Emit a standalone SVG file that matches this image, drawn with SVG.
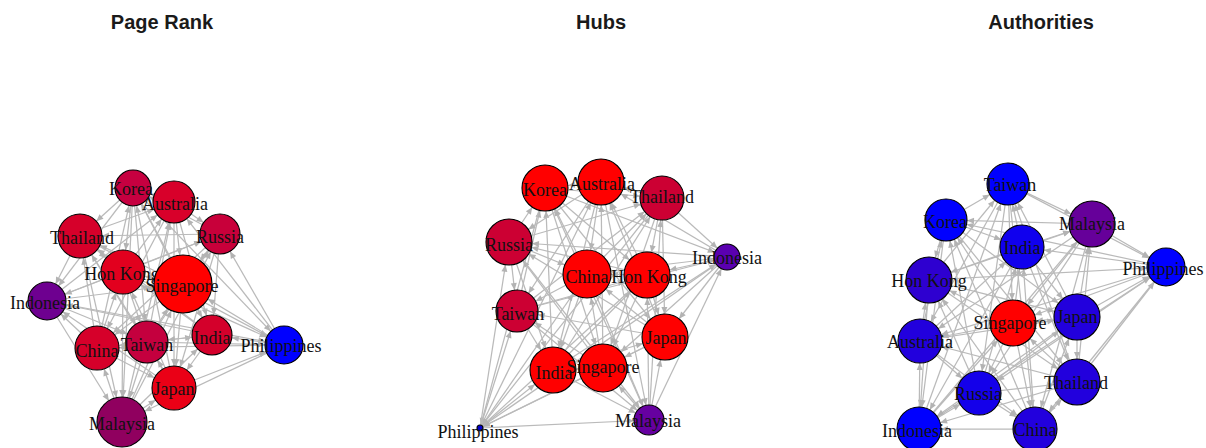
<svg xmlns="http://www.w3.org/2000/svg" width="1206" height="448" viewBox="0 0 1206 448">
<style>
.title{font-family:"Liberation Sans",Arial,sans-serif;font-weight:bold;font-size:20px;fill:#1a1a1a;text-anchor:middle}
.lbl{font-family:"Liberation Serif","Times New Roman",serif;font-size:18px;fill:#111;text-anchor:middle}
.edges line{stroke:#bababa;stroke-width:1.25;fill:none}
.nodes circle{stroke:#000;stroke-width:1.1}
.a3{marker-end:url(#m3)}.a13{marker-end:url(#m13)}.a15{marker-end:url(#m15)}.a18{marker-end:url(#m18)}
.a19{marker-end:url(#m19)}.a20{marker-end:url(#m20)}.a21{marker-end:url(#m21)}.a22{marker-end:url(#m22)}
.a23{marker-end:url(#m23)}.a24{marker-end:url(#m24)}.a25{marker-end:url(#m25)}.a29{marker-end:url(#m29)}
</style>
<defs>
<path id="ah" d="M0,0 L7,3 L0,6 Z" fill="#b3b3b3"/>
<marker id="m3" markerUnits="userSpaceOnUse" markerWidth="10" markerHeight="6" refX="10" refY="3" orient="auto" overflow="visible"><use href="#ah"/></marker>
<marker id="m13" markerUnits="userSpaceOnUse" markerWidth="10" markerHeight="6" refX="20" refY="3" orient="auto" overflow="visible"><use href="#ah"/></marker>
<marker id="m15" markerUnits="userSpaceOnUse" markerWidth="10" markerHeight="6" refX="22" refY="3" orient="auto" overflow="visible"><use href="#ah"/></marker>
<marker id="m18" markerUnits="userSpaceOnUse" markerWidth="10" markerHeight="6" refX="25" refY="3" orient="auto" overflow="visible"><use href="#ah"/></marker>
<marker id="m19" markerUnits="userSpaceOnUse" markerWidth="10" markerHeight="6" refX="26" refY="3" orient="auto" overflow="visible"><use href="#ah"/></marker>
<marker id="m20" markerUnits="userSpaceOnUse" markerWidth="10" markerHeight="6" refX="27" refY="3" orient="auto" overflow="visible"><use href="#ah"/></marker>
<marker id="m21" markerUnits="userSpaceOnUse" markerWidth="10" markerHeight="6" refX="28" refY="3" orient="auto" overflow="visible"><use href="#ah"/></marker>
<marker id="m22" markerUnits="userSpaceOnUse" markerWidth="10" markerHeight="6" refX="29" refY="3" orient="auto" overflow="visible"><use href="#ah"/></marker>
<marker id="m23" markerUnits="userSpaceOnUse" markerWidth="10" markerHeight="6" refX="30" refY="3" orient="auto" overflow="visible"><use href="#ah"/></marker>
<marker id="m24" markerUnits="userSpaceOnUse" markerWidth="10" markerHeight="6" refX="31" refY="3" orient="auto" overflow="visible"><use href="#ah"/></marker>
<marker id="m25" markerUnits="userSpaceOnUse" markerWidth="10" markerHeight="6" refX="32" refY="3" orient="auto" overflow="visible"><use href="#ah"/></marker>
<marker id="m29" markerUnits="userSpaceOnUse" markerWidth="10" markerHeight="6" refX="36" refY="3" orient="auto" overflow="visible"><use href="#ah"/></marker>
</defs>
<rect width="1206" height="448" fill="#fff"/>
<text class="title" x="162" y="29">Page Rank</text>
<text class="title" x="601" y="29">Hubs</text>
<text class="title" x="1041" y="29">Authorities</text>

<g id="edges-pagerank" class="edges">
<line x1="174" y1="202" x2="133" y2="188" class="a18"/>
<line x1="133" y1="188" x2="80" y2="236" class="a22"/>
<line x1="220" y1="234" x2="133" y2="188" class="a18"/>
<line x1="133" y1="188" x2="123" y2="272" class="a22"/>
<line x1="183" y1="284" x2="133" y2="188" class="a18"/>
<line x1="133" y1="188" x2="47" y2="301" class="a19"/>
<line x1="97" y1="348" x2="133" y2="188" class="a18"/>
<line x1="133" y1="188" x2="147" y2="342" class="a21"/>
<line x1="212" y1="335" x2="133" y2="188" class="a18"/>
<line x1="133" y1="188" x2="284" y2="345" class="a19"/>
<line x1="174" y1="388" x2="133" y2="188" class="a18"/>
<line x1="133" y1="188" x2="122" y2="422" class="a25"/>
<line x1="80" y1="236" x2="174" y2="202" class="a21"/>
<line x1="174" y1="202" x2="220" y2="234" class="a20"/>
<line x1="123" y1="272" x2="174" y2="202" class="a21"/>
<line x1="174" y1="202" x2="183" y2="284" class="a29"/>
<line x1="47" y1="301" x2="174" y2="202" class="a21"/>
<line x1="174" y1="202" x2="97" y2="348" class="a22"/>
<line x1="147" y1="342" x2="174" y2="202" class="a21"/>
<line x1="174" y1="202" x2="212" y2="335" class="a20"/>
<line x1="284" y1="345" x2="174" y2="202" class="a21"/>
<line x1="174" y1="202" x2="174" y2="388" class="a22"/>
<line x1="122" y1="422" x2="174" y2="202" class="a21"/>
<line x1="220" y1="234" x2="80" y2="236" class="a22"/>
<line x1="80" y1="236" x2="123" y2="272" class="a22"/>
<line x1="183" y1="284" x2="80" y2="236" class="a22"/>
<line x1="80" y1="236" x2="47" y2="301" class="a19"/>
<line x1="97" y1="348" x2="80" y2="236" class="a22"/>
<line x1="80" y1="236" x2="147" y2="342" class="a21"/>
<line x1="212" y1="335" x2="80" y2="236" class="a22"/>
<line x1="80" y1="236" x2="284" y2="345" class="a19"/>
<line x1="174" y1="388" x2="80" y2="236" class="a22"/>
<line x1="80" y1="236" x2="122" y2="422" class="a25"/>
<line x1="123" y1="272" x2="220" y2="234" class="a20"/>
<line x1="220" y1="234" x2="183" y2="284" class="a29"/>
<line x1="47" y1="301" x2="220" y2="234" class="a20"/>
<line x1="220" y1="234" x2="97" y2="348" class="a22"/>
<line x1="147" y1="342" x2="220" y2="234" class="a20"/>
<line x1="220" y1="234" x2="212" y2="335" class="a20"/>
<line x1="284" y1="345" x2="220" y2="234" class="a20"/>
<line x1="220" y1="234" x2="174" y2="388" class="a22"/>
<line x1="122" y1="422" x2="220" y2="234" class="a20"/>
<line x1="183" y1="284" x2="123" y2="272" class="a22"/>
<line x1="123" y1="272" x2="47" y2="301" class="a19"/>
<line x1="97" y1="348" x2="123" y2="272" class="a22"/>
<line x1="123" y1="272" x2="147" y2="342" class="a21"/>
<line x1="212" y1="335" x2="123" y2="272" class="a22"/>
<line x1="123" y1="272" x2="284" y2="345" class="a19"/>
<line x1="174" y1="388" x2="123" y2="272" class="a22"/>
<line x1="123" y1="272" x2="122" y2="422" class="a25"/>
<line x1="47" y1="301" x2="183" y2="284" class="a29"/>
<line x1="183" y1="284" x2="97" y2="348" class="a22"/>
<line x1="147" y1="342" x2="183" y2="284" class="a29"/>
<line x1="183" y1="284" x2="212" y2="335" class="a20"/>
<line x1="284" y1="345" x2="183" y2="284" class="a29"/>
<line x1="183" y1="284" x2="174" y2="388" class="a22"/>
<line x1="122" y1="422" x2="183" y2="284" class="a29"/>
<line x1="97" y1="348" x2="47" y2="301" class="a19"/>
<line x1="47" y1="301" x2="147" y2="342" class="a21"/>
<line x1="212" y1="335" x2="47" y2="301" class="a19"/>
<line x1="47" y1="301" x2="284" y2="345" class="a19"/>
<line x1="174" y1="388" x2="47" y2="301" class="a19"/>
<line x1="47" y1="301" x2="122" y2="422" class="a25"/>
<line x1="147" y1="342" x2="97" y2="348" class="a22"/>
<line x1="97" y1="348" x2="212" y2="335" class="a20"/>
<line x1="284" y1="345" x2="97" y2="348" class="a22"/>
<line x1="97" y1="348" x2="174" y2="388" class="a22"/>
<line x1="122" y1="422" x2="97" y2="348" class="a22"/>
<line x1="212" y1="335" x2="147" y2="342" class="a21"/>
<line x1="147" y1="342" x2="284" y2="345" class="a19"/>
<line x1="174" y1="388" x2="147" y2="342" class="a21"/>
<line x1="147" y1="342" x2="122" y2="422" class="a25"/>
<line x1="284" y1="345" x2="212" y2="335" class="a20"/>
<line x1="212" y1="335" x2="174" y2="388" class="a22"/>
<line x1="122" y1="422" x2="212" y2="335" class="a20"/>
<line x1="174" y1="388" x2="284" y2="345" class="a19"/>
<line x1="284" y1="345" x2="122" y2="422" class="a25"/>
<line x1="122" y1="422" x2="174" y2="388" class="a22"/>
</g>

<g id="edges-hubs" class="edges">
<line x1="601" y1="182" x2="545" y2="188" class="a23"/>
<line x1="545" y1="188" x2="662" y2="198" class="a22"/>
<line x1="509" y1="242" x2="545" y2="188" class="a23"/>
<line x1="545" y1="188" x2="727" y2="257" class="a13"/>
<line x1="587" y1="274" x2="545" y2="188" class="a23"/>
<line x1="545" y1="188" x2="647" y2="275" class="a23"/>
<line x1="517" y1="311" x2="545" y2="188" class="a23"/>
<line x1="545" y1="188" x2="665" y2="337" class="a23"/>
<line x1="553" y1="370" x2="545" y2="188" class="a23"/>
<line x1="545" y1="188" x2="603" y2="368" class="a24"/>
<line x1="649" y1="420" x2="545" y2="188" class="a23"/>
<line x1="545" y1="188" x2="480" y2="428" class="a3"/>
<line x1="662" y1="198" x2="601" y2="182" class="a23"/>
<line x1="601" y1="182" x2="509" y2="242" class="a23"/>
<line x1="727" y1="257" x2="601" y2="182" class="a23"/>
<line x1="601" y1="182" x2="587" y2="274" class="a24"/>
<line x1="647" y1="275" x2="601" y2="182" class="a23"/>
<line x1="601" y1="182" x2="517" y2="311" class="a21"/>
<line x1="665" y1="337" x2="601" y2="182" class="a23"/>
<line x1="601" y1="182" x2="553" y2="370" class="a23"/>
<line x1="603" y1="368" x2="601" y2="182" class="a23"/>
<line x1="601" y1="182" x2="649" y2="420" class="a15"/>
<line x1="480" y1="428" x2="601" y2="182" class="a23"/>
<line x1="509" y1="242" x2="662" y2="198" class="a22"/>
<line x1="662" y1="198" x2="727" y2="257" class="a13"/>
<line x1="587" y1="274" x2="662" y2="198" class="a22"/>
<line x1="662" y1="198" x2="647" y2="275" class="a23"/>
<line x1="517" y1="311" x2="662" y2="198" class="a22"/>
<line x1="662" y1="198" x2="665" y2="337" class="a23"/>
<line x1="553" y1="370" x2="662" y2="198" class="a22"/>
<line x1="662" y1="198" x2="603" y2="368" class="a24"/>
<line x1="649" y1="420" x2="662" y2="198" class="a22"/>
<line x1="662" y1="198" x2="480" y2="428" class="a3"/>
<line x1="727" y1="257" x2="509" y2="242" class="a23"/>
<line x1="509" y1="242" x2="587" y2="274" class="a24"/>
<line x1="647" y1="275" x2="509" y2="242" class="a23"/>
<line x1="509" y1="242" x2="517" y2="311" class="a21"/>
<line x1="665" y1="337" x2="509" y2="242" class="a23"/>
<line x1="509" y1="242" x2="553" y2="370" class="a23"/>
<line x1="603" y1="368" x2="509" y2="242" class="a23"/>
<line x1="509" y1="242" x2="649" y2="420" class="a15"/>
<line x1="480" y1="428" x2="509" y2="242" class="a23"/>
<line x1="587" y1="274" x2="727" y2="257" class="a13"/>
<line x1="727" y1="257" x2="647" y2="275" class="a23"/>
<line x1="517" y1="311" x2="727" y2="257" class="a13"/>
<line x1="727" y1="257" x2="665" y2="337" class="a23"/>
<line x1="553" y1="370" x2="727" y2="257" class="a13"/>
<line x1="727" y1="257" x2="603" y2="368" class="a24"/>
<line x1="649" y1="420" x2="727" y2="257" class="a13"/>
<line x1="727" y1="257" x2="480" y2="428" class="a3"/>
<line x1="647" y1="275" x2="587" y2="274" class="a24"/>
<line x1="587" y1="274" x2="517" y2="311" class="a21"/>
<line x1="665" y1="337" x2="587" y2="274" class="a24"/>
<line x1="587" y1="274" x2="553" y2="370" class="a23"/>
<line x1="603" y1="368" x2="587" y2="274" class="a24"/>
<line x1="587" y1="274" x2="649" y2="420" class="a15"/>
<line x1="480" y1="428" x2="587" y2="274" class="a24"/>
<line x1="517" y1="311" x2="647" y2="275" class="a23"/>
<line x1="647" y1="275" x2="665" y2="337" class="a23"/>
<line x1="553" y1="370" x2="647" y2="275" class="a23"/>
<line x1="647" y1="275" x2="603" y2="368" class="a24"/>
<line x1="649" y1="420" x2="647" y2="275" class="a23"/>
<line x1="647" y1="275" x2="480" y2="428" class="a3"/>
<line x1="665" y1="337" x2="517" y2="311" class="a21"/>
<line x1="517" y1="311" x2="553" y2="370" class="a23"/>
<line x1="603" y1="368" x2="517" y2="311" class="a21"/>
<line x1="517" y1="311" x2="649" y2="420" class="a15"/>
<line x1="480" y1="428" x2="517" y2="311" class="a21"/>
<line x1="553" y1="370" x2="665" y2="337" class="a23"/>
<line x1="665" y1="337" x2="603" y2="368" class="a24"/>
<line x1="649" y1="420" x2="665" y2="337" class="a23"/>
<line x1="665" y1="337" x2="480" y2="428" class="a3"/>
<line x1="603" y1="368" x2="553" y2="370" class="a23"/>
<line x1="553" y1="370" x2="649" y2="420" class="a15"/>
<line x1="480" y1="428" x2="553" y2="370" class="a23"/>
<line x1="649" y1="420" x2="603" y2="368" class="a24"/>
<line x1="603" y1="368" x2="480" y2="428" class="a3"/>
<line x1="480" y1="428" x2="649" y2="420" class="a15"/>
</g>

<g id="edges-authorities" class="edges">
<line x1="946" y1="220" x2="1008" y2="184" class="a21"/>
<line x1="1008" y1="184" x2="1092" y2="224" class="a23"/>
<line x1="1022" y1="247" x2="1008" y2="184" class="a21"/>
<line x1="1008" y1="184" x2="1166" y2="267" class="a19"/>
<line x1="929" y1="280" x2="1008" y2="184" class="a21"/>
<line x1="1008" y1="184" x2="1013" y2="323" class="a23"/>
<line x1="1077" y1="317" x2="1008" y2="184" class="a21"/>
<line x1="1008" y1="184" x2="920" y2="341" class="a22"/>
<line x1="1077" y1="382" x2="1008" y2="184" class="a21"/>
<line x1="1008" y1="184" x2="979" y2="393" class="a22"/>
<line x1="919" y1="429" x2="1008" y2="184" class="a21"/>
<line x1="1008" y1="184" x2="1035" y2="429" class="a22"/>
<line x1="1092" y1="224" x2="946" y2="220" class="a21"/>
<line x1="946" y1="220" x2="1022" y2="247" class="a22"/>
<line x1="1166" y1="267" x2="946" y2="220" class="a21"/>
<line x1="946" y1="220" x2="929" y2="280" class="a23"/>
<line x1="1013" y1="323" x2="946" y2="220" class="a21"/>
<line x1="946" y1="220" x2="1077" y2="317" class="a23"/>
<line x1="920" y1="341" x2="946" y2="220" class="a21"/>
<line x1="946" y1="220" x2="1077" y2="382" class="a23"/>
<line x1="979" y1="393" x2="946" y2="220" class="a21"/>
<line x1="946" y1="220" x2="919" y2="429" class="a22"/>
<line x1="1035" y1="429" x2="946" y2="220" class="a21"/>
<line x1="1022" y1="247" x2="1092" y2="224" class="a23"/>
<line x1="1092" y1="224" x2="1166" y2="267" class="a19"/>
<line x1="929" y1="280" x2="1092" y2="224" class="a23"/>
<line x1="1092" y1="224" x2="1013" y2="323" class="a23"/>
<line x1="1077" y1="317" x2="1092" y2="224" class="a23"/>
<line x1="1092" y1="224" x2="920" y2="341" class="a22"/>
<line x1="1077" y1="382" x2="1092" y2="224" class="a23"/>
<line x1="1092" y1="224" x2="979" y2="393" class="a22"/>
<line x1="919" y1="429" x2="1092" y2="224" class="a23"/>
<line x1="1092" y1="224" x2="1035" y2="429" class="a22"/>
<line x1="1166" y1="267" x2="1022" y2="247" class="a22"/>
<line x1="1022" y1="247" x2="929" y2="280" class="a23"/>
<line x1="1013" y1="323" x2="1022" y2="247" class="a22"/>
<line x1="1022" y1="247" x2="1077" y2="317" class="a23"/>
<line x1="920" y1="341" x2="1022" y2="247" class="a22"/>
<line x1="1022" y1="247" x2="1077" y2="382" class="a23"/>
<line x1="979" y1="393" x2="1022" y2="247" class="a22"/>
<line x1="1022" y1="247" x2="919" y2="429" class="a22"/>
<line x1="1035" y1="429" x2="1022" y2="247" class="a22"/>
<line x1="929" y1="280" x2="1166" y2="267" class="a19"/>
<line x1="1166" y1="267" x2="1013" y2="323" class="a23"/>
<line x1="1077" y1="317" x2="1166" y2="267" class="a19"/>
<line x1="1166" y1="267" x2="920" y2="341" class="a22"/>
<line x1="1077" y1="382" x2="1166" y2="267" class="a19"/>
<line x1="1166" y1="267" x2="979" y2="393" class="a22"/>
<line x1="919" y1="429" x2="1166" y2="267" class="a19"/>
<line x1="1166" y1="267" x2="1035" y2="429" class="a22"/>
<line x1="1013" y1="323" x2="929" y2="280" class="a23"/>
<line x1="929" y1="280" x2="1077" y2="317" class="a23"/>
<line x1="920" y1="341" x2="929" y2="280" class="a23"/>
<line x1="929" y1="280" x2="1077" y2="382" class="a23"/>
<line x1="979" y1="393" x2="929" y2="280" class="a23"/>
<line x1="929" y1="280" x2="919" y2="429" class="a22"/>
<line x1="1035" y1="429" x2="929" y2="280" class="a23"/>
<line x1="1077" y1="317" x2="1013" y2="323" class="a23"/>
<line x1="1013" y1="323" x2="920" y2="341" class="a22"/>
<line x1="1077" y1="382" x2="1013" y2="323" class="a23"/>
<line x1="1013" y1="323" x2="979" y2="393" class="a22"/>
<line x1="919" y1="429" x2="1013" y2="323" class="a23"/>
<line x1="1013" y1="323" x2="1035" y2="429" class="a22"/>
<line x1="920" y1="341" x2="1077" y2="317" class="a23"/>
<line x1="1077" y1="317" x2="1077" y2="382" class="a23"/>
<line x1="979" y1="393" x2="1077" y2="317" class="a23"/>
<line x1="1077" y1="317" x2="919" y2="429" class="a22"/>
<line x1="1035" y1="429" x2="1077" y2="317" class="a23"/>
<line x1="1077" y1="382" x2="920" y2="341" class="a22"/>
<line x1="920" y1="341" x2="979" y2="393" class="a22"/>
<line x1="919" y1="429" x2="920" y2="341" class="a22"/>
<line x1="920" y1="341" x2="1035" y2="429" class="a22"/>
<line x1="979" y1="393" x2="1077" y2="382" class="a23"/>
<line x1="1077" y1="382" x2="919" y2="429" class="a22"/>
<line x1="1035" y1="429" x2="1077" y2="382" class="a23"/>
<line x1="919" y1="429" x2="979" y2="393" class="a22"/>
<line x1="979" y1="393" x2="1035" y2="429" class="a22"/>
<line x1="1035" y1="429" x2="919" y2="429" class="a22"/>
</g>

<g id="nodes-pagerank" class="nodes">
<g id="pr-korea"><circle cx="133" cy="188" r="18" fill="#c60040"/><text class="lbl" x="131" y="195">Korea</text></g>
<g id="pr-australia"><circle cx="174" cy="202" r="21" fill="#d8002a"/><text class="lbl" x="175" y="210">Australia</text></g>
<g id="pr-thailand"><circle cx="80" cy="236" r="22" fill="#d6002a"/><text class="lbl" x="82" y="244">Thailand</text></g>
<g id="pr-russia"><circle cx="220" cy="234" r="20" fill="#c8003a"/><text class="lbl" x="220" y="243">Russia</text></g>
<g id="pr-hongkong"><circle cx="123" cy="272" r="22" fill="#e2001e"/><text class="lbl" x="122" y="280">Hon Kong</text></g>
<g id="pr-singapore"><circle cx="183" cy="284" r="29" fill="#ff0000"/><text class="lbl" x="182" y="292">Singapore</text></g>
<g id="pr-indonesia"><circle cx="47" cy="301" r="19" fill="#6e0090"/><text class="lbl" x="45" y="309">Indonesia</text></g>
<g id="pr-china"><circle cx="97" cy="348" r="22" fill="#d6002a"/><text class="lbl" x="97" y="357">China</text></g>
<g id="pr-taiwan"><circle cx="147" cy="342" r="21" fill="#c4003e"/><text class="lbl" x="147" y="351">Taiwan</text></g>
<g id="pr-india"><circle cx="212" cy="335" r="20" fill="#d4002b"/><text class="lbl" x="212" y="344">India</text></g>
<g id="pr-philippines"><circle cx="284" cy="345" r="19" fill="#0000ff"/><text class="lbl" x="281" y="352">Philippines</text></g>
<g id="pr-japan"><circle cx="174" cy="388" r="22" fill="#ea0016"/><text class="lbl" x="174" y="395">Japan</text></g>
<g id="pr-malaysia"><circle cx="122" cy="422" r="25" fill="#90005f"/><text class="lbl" x="122" y="430">Malaysia</text></g>
</g>

<g id="nodes-hubs" class="nodes">
<g id="hub-korea"><circle cx="545" cy="188" r="23" fill="#ff0000"/><text class="lbl" x="545" y="196">Korea</text></g>
<g id="hub-australia"><circle cx="601" cy="182" r="23" fill="#ff0000"/><text class="lbl" x="602" y="190">Australia</text></g>
<g id="hub-thailand"><circle cx="662" cy="198" r="22" fill="#cc0033"/><text class="lbl" x="662" y="203">Thailand</text></g>
<g id="hub-russia"><circle cx="509" cy="242" r="23" fill="#cc0033"/><text class="lbl" x="509" y="251">Russia</text></g>
<g id="hub-indonesia"><circle cx="727" cy="257" r="13" fill="#5a00b0"/><text class="lbl" x="727" y="264">Indonesia</text></g>
<g id="hub-china"><circle cx="587" cy="274" r="24" fill="#ff0000"/><text class="lbl" x="587" y="283">China</text></g>
<g id="hub-hongkong"><circle cx="647" cy="275" r="23" fill="#ff0000"/><text class="lbl" x="649" y="283">Hon Kong</text></g>
<g id="hub-taiwan"><circle cx="517" cy="311" r="21" fill="#cc0033"/><text class="lbl" x="518" y="320">Taiwan</text></g>
<g id="hub-japan"><circle cx="665" cy="337" r="23" fill="#ff0000"/><text class="lbl" x="666" y="344">Japan</text></g>
<g id="hub-india"><circle cx="553" cy="370" r="23" fill="#ff0000"/><text class="lbl" x="554" y="379">India</text></g>
<g id="hub-singapore"><circle cx="603" cy="368" r="24" fill="#ff0000"/><text class="lbl" x="603" y="373">Singapore</text></g>
<g id="hub-malaysia"><circle cx="649" cy="420" r="15" fill="#6600a0"/><text class="lbl" x="648" y="427">Malaysia</text></g>
<g id="hub-philippines"><circle cx="480" cy="428" r="3" fill="#0000cc"/><text class="lbl" x="478" y="438">Philippines</text></g>
</g>

<g id="nodes-authorities" class="nodes">
<g id="au-taiwan"><circle cx="1008" cy="184" r="21" fill="#0000ff"/><text class="lbl" x="1010" y="191">Taiwan</text></g>
<g id="au-korea"><circle cx="946" cy="220" r="21" fill="#0000ff"/><text class="lbl" x="945" y="228">Korea</text></g>
<g id="au-malaysia"><circle cx="1092" cy="224" r="23" fill="#66009a"/><text class="lbl" x="1092" y="230">Malaysia</text></g>
<g id="au-india"><circle cx="1022" cy="247" r="22" fill="#1000ee"/><text class="lbl" x="1022" y="254">India</text></g>
<g id="au-philippines"><circle cx="1166" cy="267" r="19" fill="#0000ff"/><text class="lbl" x="1163" y="275">Philippines</text></g>
<g id="au-hongkong"><circle cx="929" cy="280" r="23" fill="#2e00d0"/><text class="lbl" x="929" y="287">Hon Kong</text></g>
<g id="au-singapore"><circle cx="1013" cy="323" r="23" fill="#ff0000"/><text class="lbl" x="1010" y="329">Singapore</text></g>
<g id="au-japan"><circle cx="1077" cy="317" r="23" fill="#2200dd"/><text class="lbl" x="1077" y="323">Japan</text></g>
<g id="au-australia"><circle cx="920" cy="341" r="22" fill="#2200dd"/><text class="lbl" x="920" y="348">Australia</text></g>
<g id="au-thailand"><circle cx="1077" cy="382" r="23" fill="#2200dd"/><text class="lbl" x="1076" y="389">Thailand</text></g>
<g id="au-russia"><circle cx="979" cy="393" r="22" fill="#1400ea"/><text class="lbl" x="978" y="400">Russia</text></g>
<g id="au-indonesia"><circle cx="919" cy="429" r="22" fill="#0000ff"/><text class="lbl" x="917" y="437">Indonesia</text></g>
<g id="au-china"><circle cx="1035" cy="429" r="22" fill="#2200dd"/><text class="lbl" x="1035" y="436">China</text></g>
</g>
</svg>
